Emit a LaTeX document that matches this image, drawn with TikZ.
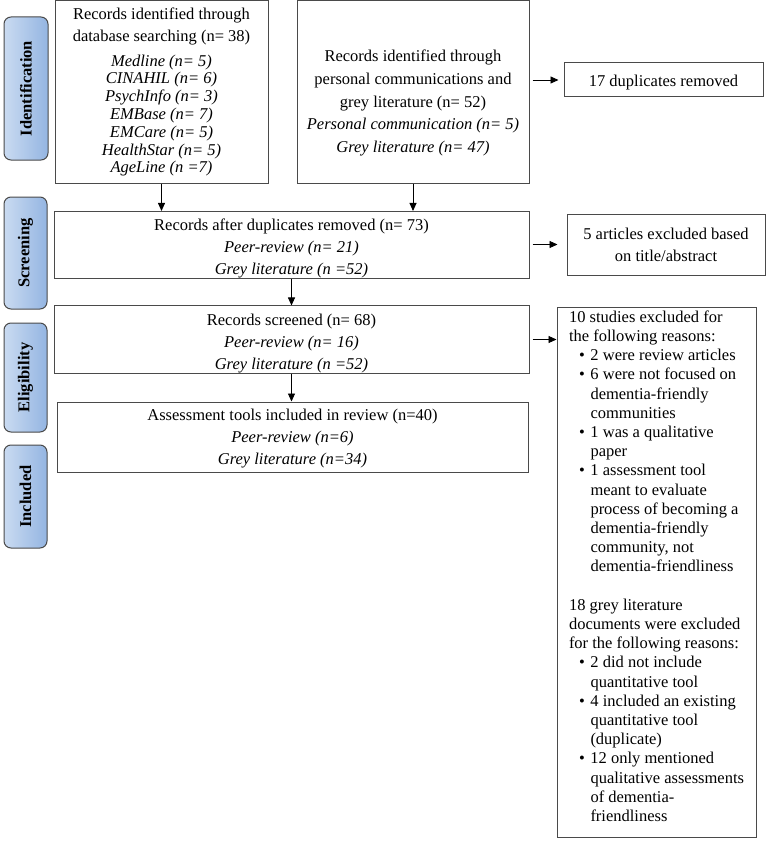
\documentclass[tikz,border=0pt]{standalone}
\usepackage{fontspec}
\setmainfont{Liberation Serif}
\usetikzlibrary{arrows.meta}
\definecolor{tabL}{HTML}{CADBF1}
\definecolor{tabR}{HTML}{94B5E2}
\definecolor{edge}{HTML}{4A4A4A}
\tikzset{
  box/.style={draw=edge, line width=1pt, rectangle, inner sep=0pt, align=center,
              font=\fontsize{16.5}{22}\selectfont},
  tab/.style={draw=edge, line width=1pt, rectangle, rounded corners=7pt,
              left color=tabL, right color=tabR, inner sep=0pt},
  tablabel/.style={rotate=90, font=\fontsize{16.5}{18}\selectfont\bfseries},
  arr/.style={-{Triangle[length=8pt,width=7pt]}, line width=0.9pt},
}
\newcommand{\bul}{\hspace*{10pt}\makebox[11.5pt][l]{\textbullet}}
\newcommand{\cont}{\hspace*{21.5pt}}
\newcommand{\strt}[1]{\rule{0pt}{#1}}
\begin{document}
\begin{tikzpicture}[x=1pt,y=-1pt]
\useasboundingbox (0,0) rectangle (767,848);

% stage tabs
\node[tab, minimum width=44pt, minimum height=143pt] (tI) at (26,88.5) {};
\node[tablabel] (tIl) at (tI) {Identification};
\node[tab, minimum width=43pt, minimum height=112pt] (tS) at (25.5,253) {};
\node[tablabel] (tSl) at (tS) {Screening};
\node[tab, minimum width=43pt, minimum height=109pt] (tE) at (25.5,377.5) {};
\node[tablabel] (tEl) at (tE) {Eligibility};
\node[tab, minimum width=43pt, minimum height=103pt] (tN) at (25.5,496.5) {};
\node[tablabel] (tNl) at (tN) {Included};

% boxes
\node[box, minimum width=213pt, minimum height=182pt, font=\fontsize{16.5}{17.8}\selectfont] (A) at (161.5,92)
  {Records identified through\\[4.2pt]
   database searching (n= 38)\\[7pt]
   \textit{Medline (n= 5)}\\
   \textit{CINAHIL (n= 6)}\\
   \textit{PsychInfo (n= 3)}\\
   \textit{EMBase (n= 7)}\\
   \textit{EMCare (n= 5)}\\
   \textit{HealthStar (n= 5)}\\
   \textit{AgeLine (n =7)}};

\node[box, minimum width=232pt, minimum height=182pt] (B) at (413,92) {};
\node[align=center, inner sep=0pt, font=\fontsize{16.5}{22.6}\selectfont] (Bt) at (413,103)
  {Records identified through\\
   personal communications and\\
   grey literature (n= 52)\\
   \textit{Personal communication (n= 5)}\\
   \textit{Grey literature (n= 47)}};

\node[box, minimum width=199pt, minimum height=34pt] (D) at (663.5,80) {\strt{17.5pt}17 duplicates removed};

\node[box, minimum width=475pt, minimum height=64pt] (AD) at (291.5,245)
  {\strt{19.5pt}Records after duplicates removed (n= 73)\\
   \textit{Peer-review (n= 21)}\\
   \textit{Grey literature (n =52)}};

\node[box, minimum width=198pt, minimum height=61pt] (X5) at (666,244.5)
  {5 articles excluded based\\on title/abstract};

\node[box, minimum width=475pt, minimum height=65pt] (S) at (291.5,339.5)
  {\strt{19.5pt}Records screened (n= 68)\\
   \textit{Peer-review (n= 16)}\\
   \textit{Grey literature (n =52)}};

\node[box, minimum width=471pt, minimum height=70pt] (I) at (292.5,437)
  {\strt{15.5pt}Assessment tools included in review (n=40)\\
   \textit{Peer-review (n=6)}\\
   \textit{Grey literature (n=34)}};

\node[box, align=left, minimum width=199pt, minimum height=530pt,
      font=\fontsize{16.5}{19.2}\selectfont] (T) at (656.5,572)
  {\strt{7pt}10 studies excluded for\\
   the following reasons:\\
   \bul 2 were review articles\\
   \bul 6 were not focused on\\
   \cont dementia-friendly\\
   \cont communities\\
   \bul 1 was a qualitative\\
   \cont paper\\
   \bul 1 assessment tool\\
   \cont meant to evaluate\\
   \cont process of becoming a\\
   \cont dementia-friendly\\
   \cont community, not\\
   \cont dementia-friendliness\\[19.2pt]
   18 grey literature\\
   documents were excluded\\
   for the following reasons:\\
   \bul 2 did not include\\
   \cont quantitative tool\\
   \bul 4 included an existing\\
   \cont quantitative tool\\
   \cont (duplicate)\\
   \bul 12 only mentioned\\
   \cont qualitative assessments\\
   \cont of dementia-\\
   \cont friendliness\rule[-12pt]{0pt}{0pt}};

% connectors
\draw[arr] (A.south) -- (A.south |- AD.north);
\draw[arr] (B.south) -- (B.south |- AD.north);
\draw[arr, shorten <=3pt, shorten >=5pt] (B.east |- D.west) -- (D.west);
\draw[arr, shorten <=3pt, shorten >=9pt] (AD.east |- X5.west) -- (X5.west);
\draw[arr] (AD.south) -- (AD.south |- S.north);
\draw[arr, shorten <=3pt] (S.east) -- (S.east -| T.west);
\draw[arr] (S.south) -- (S.south |- I.north);
\end{tikzpicture}
\end{document}
